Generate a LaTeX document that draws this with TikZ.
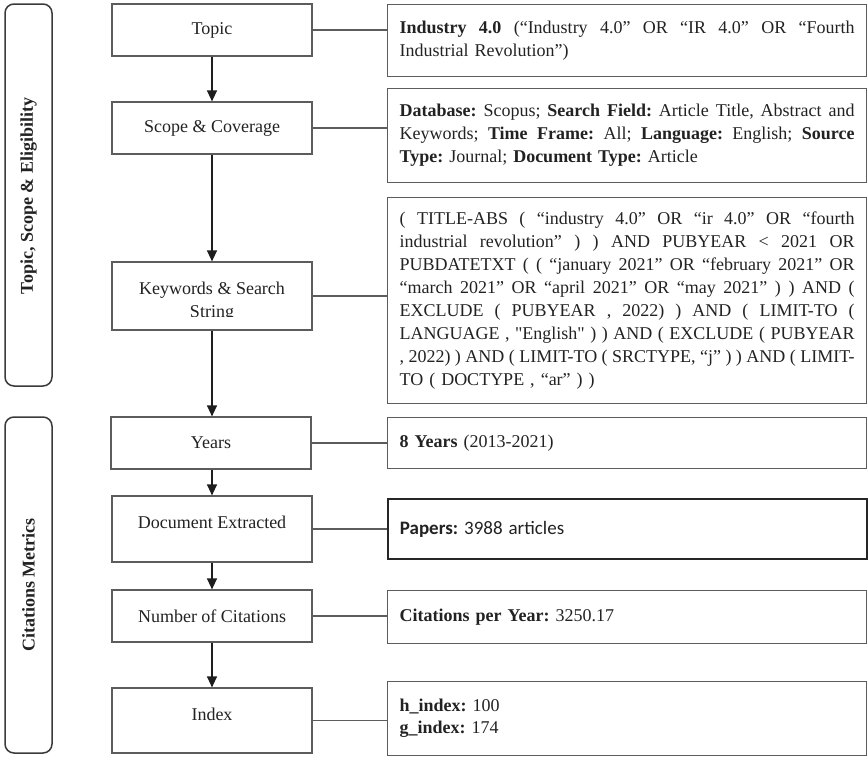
\documentclass[tikz,border=0pt]{standalone}
\usepackage{fontspec}
\setmainfont{Liberation Serif}
\newfontfamily\papersfont{Carlito}
\usetikzlibrary{arrows.meta}
\frenchspacing

% one line of a justified paragraph, stretched (or squeezed) to the full box width
\newcommand\jline[1]{\makebox[455pt][s]{\spaceskip=.25em plus 1em minus .2em #1}}

\definecolor{boxgray}{HTML}{5C5C5C}
\definecolor{textgray}{HTML}{222222}
\definecolor{arrowgray}{HTML}{1E1E1E}
\definecolor{framegray}{HTML}{3A3A3A}

\begin{document}
\begin{tikzpicture}[x=1pt,y=-1pt,
  bodyfont/.style={font=\fontsize{18}{23}\selectfont},
  stepbox/.style={draw=boxgray, line width=1.2pt, minimum width=200pt,
    inner sep=0pt, bodyfont, text=textgray, align=center},
  infobox/.style={draw=boxgray, line width=1.2pt, minimum width=479pt,
    text width=455pt, inner xsep=12pt, inner ysep=0pt, align=left,
    anchor=north west, bodyfont, text=textgray},
  groupframe/.style={draw=framegray, line width=1.5pt, rounded corners=9pt},
  grouplabel/.style={rotate=90, text=textgray,
    font=\bfseries\fontsize{18}{22}\selectfont},
  flow/.style={draw=arrowgray, line width=1.3pt,
    -{Triangle[length=11pt,width=10pt]}},
  link/.style={draw=boxgray, line width=1.1pt}
]
\useasboundingbox (0,0) rectangle (868,756);

% ---- group frames on the left ----
\draw[groupframe] (5,4) rectangle (52,386);
\node[grouplabel] (g1) at (28.5,196) {Topic, Scope \& Eligibility};
\draw[groupframe] (5,417) rectangle (52,753);
\node[grouplabel] (g2) at (28.5,585) {Citations Metrics};

% ---- process steps ----
\node[stepbox, minimum height=52pt] (topic) at (212,30) {Topic};
\node[stepbox, minimum height=52pt] (scope) at (212,128) {Scope \& Coverage};
\node[stepbox, minimum height=68pt] (kw) at (212,296) {};
\begin{scope}
  \clip (112,262) rectangle (312,316.6);
  \node[bodyfont, text=textgray, align=center, inner sep=0pt] (kwtext) at (212,301.5)
    {Keywords \& Search\\String};
\end{scope}
\node[stepbox, minimum height=52pt] (years) at (211,443) {Years};
\node[stepbox, minimum height=66pt, text height=13pt, text depth=14pt] (doc) at (212,529)
  {Document Extracted};
\node[stepbox, minimum height=52pt] (cites) at (212,616) {Number of Citations};
\node[stepbox, minimum height=65pt, text height=13pt, text depth=14pt] (index) at (212,720.5)
  {Index};

% ---- details ----
\node[infobox, minimum height=72pt] (r1) at (387,4)
  {\jline{\textbf{Industry 4.0} (“Industry 4.0” OR “IR 4.0” OR “Fourth}\\
   Industrial Revolution”)};
\node[infobox, minimum height=94pt] (r2) at (387,88)
  {\jline{\textbf{Database:} Scopus; \textbf{Search Field:} Article Title, Abstract and}\\
   \jline{Keywords; \textbf{Time Frame:} All; \textbf{Language:} English; \textbf{Source}}\\
   \textbf{Type:} Journal; \textbf{Document Type:} Article};
\node[infobox, minimum height=206pt] (r3) at (387,197)
  {\jline{( TITLE-ABS ( “industry 4.0” OR “ir 4.0” OR “fourth}\\
   \jline{industrial revolution” ) ) AND PUBYEAR < 2021 OR}\\
   \jline{PUBDATETXT ( ( “january 2021” OR “february 2021” OR}\\
   \jline{“march 2021” OR “april 2021” OR “may 2021” ) ) AND (}\\
   \jline{EXCLUDE ( PUBYEAR , 2022) ) AND ( LIMIT-TO (}\\
   \jline{LANGUAGE , \textquotedbl English\textquotedbl{} ) ) AND ( EXCLUDE ( PUBYEAR}\\
   \jline{, 2022) ) AND ( LIMIT-TO ( SRCTYPE, “j” ) ) AND ( LIMIT-}\\
   TO ( DOCTYPE , “ar” ) )};
\node[infobox, minimum height=51pt] (r4) at (387,417)
  {\textbf{8 Years} (2013-2021)};
\node[infobox, minimum height=60pt, draw=black!85, line width=1.8pt] (r5) at (387,498)
  {\papersfont\fontsize{19}{23}\selectfont\textbf{Papers:} 3988 articles};
\node[infobox, minimum height=53pt] (r6) at (387,590)
  {\textbf{Citations per Year:} 3250.17};
\node[infobox, minimum height=74pt, font=\fontsize{18}{22}\selectfont] (r7) at (387,681)
  {\textbf{h\_index:} 100\\\textbf{g\_index:} 174};

% ---- flow arrows ----
\draw[flow] (topic.south) -- (scope.north);
\draw[flow] (scope.south) -- (kw.north);
\draw[flow] (kw.south) -- (kw.south |- years.north);
\draw[flow] (years.south -| doc.south) -- (doc.north);
\draw[flow] (doc.south) -- (cites.north);
\draw[flow] (cites.south) -- (index.north);

% ---- links to details ----
\draw[link] (topic.east) -- (topic.east -| r1.west);
\draw[link] (scope.east) -- (scope.east -| r2.west);
\draw[link] (kw.east) -- (kw.east -| r3.west);
\draw[link] (years.east) -- (years.east -| r4.west);
\draw[link] (doc.east) -- (doc.east -| r5.west);
\draw[link] (cites.east) -- (cites.east -| r6.west);
\draw[link] (index.east) -- (index.east -| r7.west);
\end{tikzpicture}
\end{document}
